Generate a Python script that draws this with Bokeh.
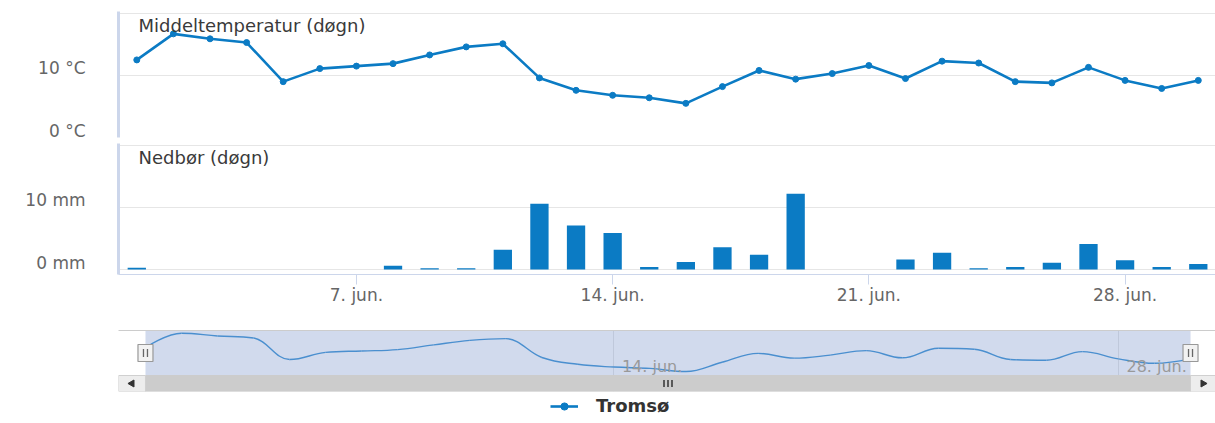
import math
from bokeh.plotting import figure
from bokeh.layouts import column
from bokeh.models import Range1d, FixedTicker, LinearAxis, Legend, LegendItem
from bokeh.core.properties import value
from bokeh.embed import file_html
from bokeh.resources import INLINE

# ---------------- data ----------------
days = [1, 2, 3, 4, 5, 6, 7, 8, 9, 10, 11, 12, 13, 14, 15,
        16, 17, 18, 19, 20, 21, 22, 23, 24, 25, 26, 27, 28, 29, 30]
temperature = [12.5, 16.7, 15.9, 15.3, 9.0, 11.1, 11.5, 11.9, 13.3, 14.6,
               15.1, 9.6, 7.6, 6.8, 6.4, 5.5, 8.2, 10.8, 9.4, 10.3,
               11.6, 9.5, 12.3, 12.0, 9.0, 8.8, 11.3, 9.2, 7.9, 9.2]
precipitation = [0.3, 0.0, 0.0, 0.0, 0.0, 0.0, 0.0, 0.6, 0.2, 0.2,
                 3.2, 10.6, 7.1, 5.9, 0.4, 1.2, 3.6, 2.4, 12.2, 0.0,
                 0.0, 1.6, 2.7, 0.2, 0.4, 1.1, 4.1, 1.5, 0.4, 0.9]
x_tick_days = [7, 14, 21, 28]
x_tick_labels = ["7. jun.", "14. jun.", "21. jun.", "28. jun."]
nav_tick_days = [14, 28]
nav_tick_labels = ["14. jun.", "28. jun."]
temp_ticks = [0, 10]
temp_tick_labels = ["0 °C", "10 °C"]
precip_ticks = [0, 10]
precip_tick_labels = ["0 mm", "10 mm"]
grid_values = [0, 10, 20]
series_name = "Tromsø"
temp_title = "Middeltemperatur (døgn)"
precip_title = "Nedbør (døgn)"

# ---------------- style ----------------
FONT = "DejaVu Sans"
BLUE = "#0b7bc4"
NAV_BLUE = "#4a8fcf"
GRID = "#e6e6e6"
AXIS = "#ccd6eb"
LABEL = "#666666"
TITLE = "#3a3a3a"
W = 1215
LABEL_LIFT_PX = 7   # Highcharts draws y labels a little above their grid line

main_x = Range1d(days[0] - 0.5, days[-1] + 0.47)


def style_left_axis(p, ticks, labels, frame_px):
    yr = p.y_range
    lift = LABEL_LIFT_PX * (yr.end - yr.start) / frame_px
    p.extra_y_ranges = {"labels": Range1d(yr.start - lift, yr.end - lift)}
    ax = p.yaxis[0]
    ax.y_range_name = "labels"
    ax.ticker = FixedTicker(ticks=ticks)
    ax.major_label_overrides = {t: l for t, l in zip(ticks, labels)}
    ax.axis_line_color = AXIS
    ax.axis_line_width = 3
    ax.major_tick_out = 0
    ax.major_tick_in = 0
    ax.minor_tick_out = 0
    ax.minor_tick_in = 0
    ax.major_label_standoff = 33
    ax.major_label_text_font = FONT
    ax.major_label_text_font_size = "17px"
    ax.major_label_text_color = LABEL


def base_fig(height, y_range, top, bottom, left=118, x_range=main_x, x_loc=None):
    p = figure(width=W, height=height, x_range=x_range, y_range=y_range,
               x_axis_location=x_loc, toolbar_location=None, output_backend="svg",
               min_border_left=left, min_border_right=0,
               min_border_top=top, min_border_bottom=bottom)
    p.outline_line_color = None
    p.background_fill_color = "white"
    p.border_fill_color = "white"
    p.xgrid.visible = False
    return p


# ---------------- pane 1 : temperature ----------------
p1 = base_fig(140, Range1d(0, 20.3), top=11, bottom=3)
p1.ygrid.ticker = FixedTicker(ticks=grid_values)
p1.ygrid.grid_line_color = GRID
style_left_axis(p1, temp_ticks, temp_tick_labels, 126)
p1.line(days, temperature, line_color=BLUE, line_width=2.6)
p1.scatter(days, temperature, size=6, color=BLUE)
p1.text(x=[main_x.start], y=[p1.y_range.end], text=[temp_title],
        x_offset=20, y_offset=3, text_baseline="top", text_align="left",
        text_font=value(FONT), text_font_size="18px", text_color=TITLE)

# ---------------- pane 2 : precipitation ----------------
p2 = base_fig(172, Range1d(-0.8, 20.3), top=3, bottom=38, x_loc="below")
p2.ygrid.ticker = FixedTicker(ticks=grid_values)
p2.ygrid.grid_line_color = GRID
style_left_axis(p2, precip_ticks, precip_tick_labels, 131)
xa = p2.xaxis[0]
xa.ticker = FixedTicker(ticks=x_tick_days)
xa.major_label_overrides = {d: l for d, l in zip(x_tick_days, x_tick_labels)}
xa.axis_line_color = AXIS
xa.major_tick_line_color = AXIS
xa.major_tick_out = 10
xa.major_tick_in = 0
xa.minor_tick_out = 0
xa.minor_tick_in = 0
xa.major_label_standoff = 0
xa.major_label_text_font = FONT
xa.major_label_text_font_size = "17px"
xa.major_label_text_color = LABEL
p2.vbar(x=days, top=precipitation, width=0.5, fill_color=BLUE, line_color=None)
p2.text(x=[main_x.start], y=[p2.y_range.end], text=[precip_title],
        x_offset=20, y_offset=3, text_baseline="top", text_align="left",
        text_font=value(FONT), text_font_size="18px", text_color=TITLE)

# ---------------- navigator + scrollbar ----------------
nav_px_per_day = 36.07
nav_x = Range1d(days[0] - 27 / nav_px_per_day, days[-1] + 25 / nav_px_per_day)
nav_top, nav_low, nav_bottom = 17.49, 4.33, -0.35
p3 = base_fig(83, Range1d(nav_bottom, nav_top), top=18, bottom=4, left=117,
              x_range=nav_x)
for ax in p3.yaxis:
    ax.visible = False
top_axis = LinearAxis(ticker=FixedTicker(ticks=[]), axis_line_color="#cccccc",
                      major_tick_out=0, major_tick_in=0, minor_tick_out=0,
                      minor_tick_in=0, major_label_standoff=0)
p3.add_layout(top_axis, "above")
for g in p3.grid:
    if g.dimension == 0:
        g.visible = True
        g.ticker = FixedTicker(ticks=nav_tick_days)
        g.grid_line_color = GRID
    else:
        g.visible = False

# selection mask
p3.quad(left=[days[0]], right=[days[-1]], bottom=[nav_low], top=[nav_top],
        fill_color="#6685c2", fill_alpha=0.3, line_color=None)


# spline (Highcharts-like) through the temperature series
def spline_controls(xs, ys, smoothing=1.5):
    n = len(xs)
    lc = [(xs[i], ys[i]) for i in range(n)]
    rc = [(xs[i], ys[i]) for i in range(n)]
    for i in range(1, n - 1):
        px, py = xs[i], ys[i]
        lx, ly = xs[i - 1], ys[i - 1]
        nx, ny = xs[i + 1], ys[i + 1]
        d = smoothing + 1
        lcx, lcy = (smoothing * px + lx) / d, (smoothing * py + ly) / d
        rcx, rcy = (smoothing * px + nx) / d, (smoothing * py + ny) / d
        if rcx != lcx:
            corr = ((rcy - lcy) * (rcx - px)) / (rcx - lcx) + py - rcy
            lcy += corr
            rcy += corr
        if lcy > ly and lcy > py:
            lcy = max(ly, py); rcy = 2 * py - lcy
        elif lcy < ly and lcy < py:
            lcy = min(ly, py); rcy = 2 * py - lcy
        if rcy > ny and rcy > py:
            rcy = max(ny, py); lcy = 2 * py - rcy
        elif rcy < ny and rcy < py:
            rcy = min(ny, py); lcy = 2 * py - rcy
        lc[i] = (lcx, lcy)
        rc[i] = (rcx, rcy)
    return lc, rc


lc, rc = spline_controls(days, temperature)
p3.bezier(x0=days[:-1], y0=temperature[:-1], x1=days[1:], y1=temperature[1:],
          cx0=[c[0] for c in rc[:-1]], cy0=[c[1] for c in rc[:-1]],
          cx1=[c[0] for c in lc[1:]], cy1=[c[1] for c in lc[1:]],
          line_color=NAV_BLUE, line_width=1.4)

p3.text(x=nav_tick_days, y=[nav_low] * len(nav_tick_days), text=nav_tick_labels,
        x_offset=8, y_offset=-9, text_baseline="alphabetic", text_align="left",
        text_font=value(FONT), text_font_size="16px", text_color="#999999")

# scrollbar track, thumb, buttons
p3.quad(left=[nav_x.start], right=[nav_x.end], bottom=[nav_bottom], top=[nav_low],
        fill_color="#f2f2f2", line_color=None)
p3.quad(left=[days[0]], right=[days[-1]], bottom=[nav_bottom], top=[nav_low],
        fill_color="#cccccc", line_color="#cccccc")
p3.quad(left=[nav_x.start, days[-1]], right=[days[0], nav_x.end],
        bottom=[nav_bottom] * 2, top=[nav_low] * 2,
        fill_color="#ededed", line_color="#d0d0d0", line_width=1)
sb_mid = (nav_bottom + nav_low) / 2
p3.scatter(x=[(nav_x.start + days[0]) / 2, (days[-1] + nav_x.end) / 2], y=[sb_mid] * 2,
           marker="triangle", angle=[math.pi / 2, -math.pi / 2], size=7,
           color="#333333")
px_day = 1 / nav_px_per_day
thumb_mid = (days[0] + days[-1]) / 2
p3.rect(x=[thumb_mid - 4 * px_day, thumb_mid, thumb_mid + 4 * px_day], y=[sb_mid] * 3,
        width=1.5, height=7, width_units="screen", height_units="screen",
        fill_color="#333333", line_color=None)

# handles
nav_mid = (nav_low + nav_top) / 2
p3.rect(x=[days[0], days[-1]], y=[nav_mid] * 2, width=15, height=17,
        width_units="screen", height_units="screen",
        fill_color="#f2f2f2", line_color="#999999", line_width=1.2)
p3.rect(x=[days[0] - 2 * px_day, days[0] + 2 * px_day,
           days[-1] - 2 * px_day, days[-1] + 2 * px_day], y=[nav_mid] * 4,
        width=1.3, height=8, width_units="screen", height_units="screen",
        fill_color="#666666", line_color=None)

# ---------------- legend ----------------
p4 = figure(width=W, height=25, x_range=Range1d(-10, -9), y_range=Range1d(-10, -9),
            x_axis_location=None, y_axis_location=None, toolbar_location=None,
            output_backend="svg", min_border=0)
p4.outline_line_color = None
p4.grid.visible = False
# legend proxies: the same series, outside this strip's visible range
leg_line = p4.line(days, temperature, line_color=BLUE, line_width=2.6)
leg_dot = p4.scatter(days, temperature, size=6, color=BLUE)
legend = Legend(items=[LegendItem(label=series_name, renderers=[leg_line, leg_dot])],
                location=(432, 4), orientation="horizontal",
                glyph_width=28, glyph_height=18, label_standoff=18,
                label_text_font=FONT, label_text_font_size="18px",
                label_text_font_style="bold", label_text_color="#333333",
                border_line_color=None, background_fill_alpha=0,
                padding=0, margin=0)
p4.add_layout(legend, "center")

layout = column(p1, p2, p3, p4, spacing=0)

open("out.html", "w").write(file_html(layout, INLINE))
